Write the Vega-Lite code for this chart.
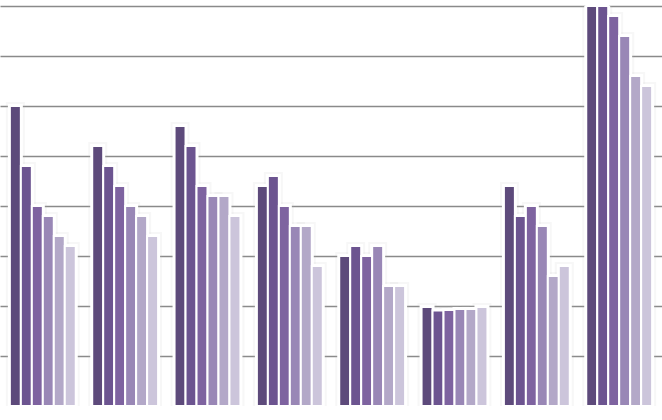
{
  "$schema": "https://vega.github.io/schema/vega-lite/v6.json",
  "width": 662,
  "height": 400,
  "autosize": {"type": "none"},
  "padding": {"left": 0, "right": 0, "top": 6, "bottom": 14},
  "background": "white",
  "config": {"view": {"stroke": null}},
  "data": {
    "values": [
      {"group": "A", "series": "1", "value": 6.0},
      {"group": "A", "series": "2", "value": 4.8},
      {"group": "A", "series": "3", "value": 4.0},
      {"group": "A", "series": "4", "value": 3.8},
      {"group": "A", "series": "5", "value": 3.4},
      {"group": "A", "series": "6", "value": 3.2},
      {"group": "B", "series": "1", "value": 5.2},
      {"group": "B", "series": "2", "value": 4.8},
      {"group": "B", "series": "3", "value": 4.4},
      {"group": "B", "series": "4", "value": 4.0},
      {"group": "B", "series": "5", "value": 3.8},
      {"group": "B", "series": "6", "value": 3.4},
      {"group": "C", "series": "1", "value": 5.6},
      {"group": "C", "series": "2", "value": 5.2},
      {"group": "C", "series": "3", "value": 4.4},
      {"group": "C", "series": "4", "value": 4.2},
      {"group": "C", "series": "5", "value": 4.2},
      {"group": "C", "series": "6", "value": 3.8},
      {"group": "D", "series": "1", "value": 4.4},
      {"group": "D", "series": "2", "value": 4.6},
      {"group": "D", "series": "3", "value": 4.0},
      {"group": "D", "series": "4", "value": 3.6},
      {"group": "D", "series": "5", "value": 3.6},
      {"group": "D", "series": "6", "value": 2.8},
      {"group": "E", "series": "1", "value": 3.0},
      {"group": "E", "series": "2", "value": 3.2},
      {"group": "E", "series": "3", "value": 3.0},
      {"group": "E", "series": "4", "value": 3.2},
      {"group": "E", "series": "5", "value": 2.4},
      {"group": "E", "series": "6", "value": 2.4},
      {"group": "F", "series": "1", "value": 1.98},
      {"group": "F", "series": "2", "value": 1.91},
      {"group": "F", "series": "3", "value": 1.92},
      {"group": "F", "series": "4", "value": 1.94},
      {"group": "F", "series": "5", "value": 1.94},
      {"group": "F", "series": "6", "value": 1.98},
      {"group": "G", "series": "1", "value": 4.4},
      {"group": "G", "series": "2", "value": 3.8},
      {"group": "G", "series": "3", "value": 4.0},
      {"group": "G", "series": "4", "value": 3.6},
      {"group": "G", "series": "5", "value": 2.6},
      {"group": "G", "series": "6", "value": 2.8},
      {"group": "H", "series": "1", "value": 8.0},
      {"group": "H", "series": "2", "value": 8.0},
      {"group": "H", "series": "3", "value": 7.8},
      {"group": "H", "series": "4", "value": 7.4},
      {"group": "H", "series": "5", "value": 6.6},
      {"group": "H", "series": "6", "value": 6.4}
    ]
  },
  "encoding": {
    "x": {
      "field": "group",
      "type": "nominal",
      "sort": null,
      "axis": null,
      "scale": {"paddingInner": 0.2, "paddingOuter": 0.12}
    },
    "xOffset": {
      "field": "series",
      "type": "nominal",
      "sort": null,
      "scale": {"paddingInner": 0, "paddingOuter": 0}
    },
    "y": {
      "field": "value",
      "type": "quantitative",
      "scale": {"domain": [0, 8], "nice": false, "zero": true},
      "axis": {
        "values": [1, 2, 3, 4, 5, 6, 7, 8],
        "grid": true,
        "gridColor": "#8a8a8a",
        "gridWidth": 1.6,
        "labels": false,
        "ticks": false,
        "domain": false,
        "title": null
      }
    }
  },
  "layer": [
    {
      "mark": {"type": "bar", "clip": true, "fill": "#000000", "fillOpacity": 0, "stroke": "#bbbbbb", "strokeOpacity": 0.12, "strokeWidth": 8}
    },
    {
      "mark": {"type": "bar", "clip": true, "fill": "white", "stroke": "white", "strokeWidth": 4}
    },
    {
      "mark": {"type": "bar", "stroke": "white", "strokeWidth": 2},
      "encoding": {
        "color": {
          "field": "series",
          "type": "nominal",
          "legend": null,
          "scale": {"range": ["#5d4a7b", "#6c5490", "#7e63a0", "#9987b6", "#b3a8c8", "#ccc5db"]}
        }
      }
    }
  ]
}
